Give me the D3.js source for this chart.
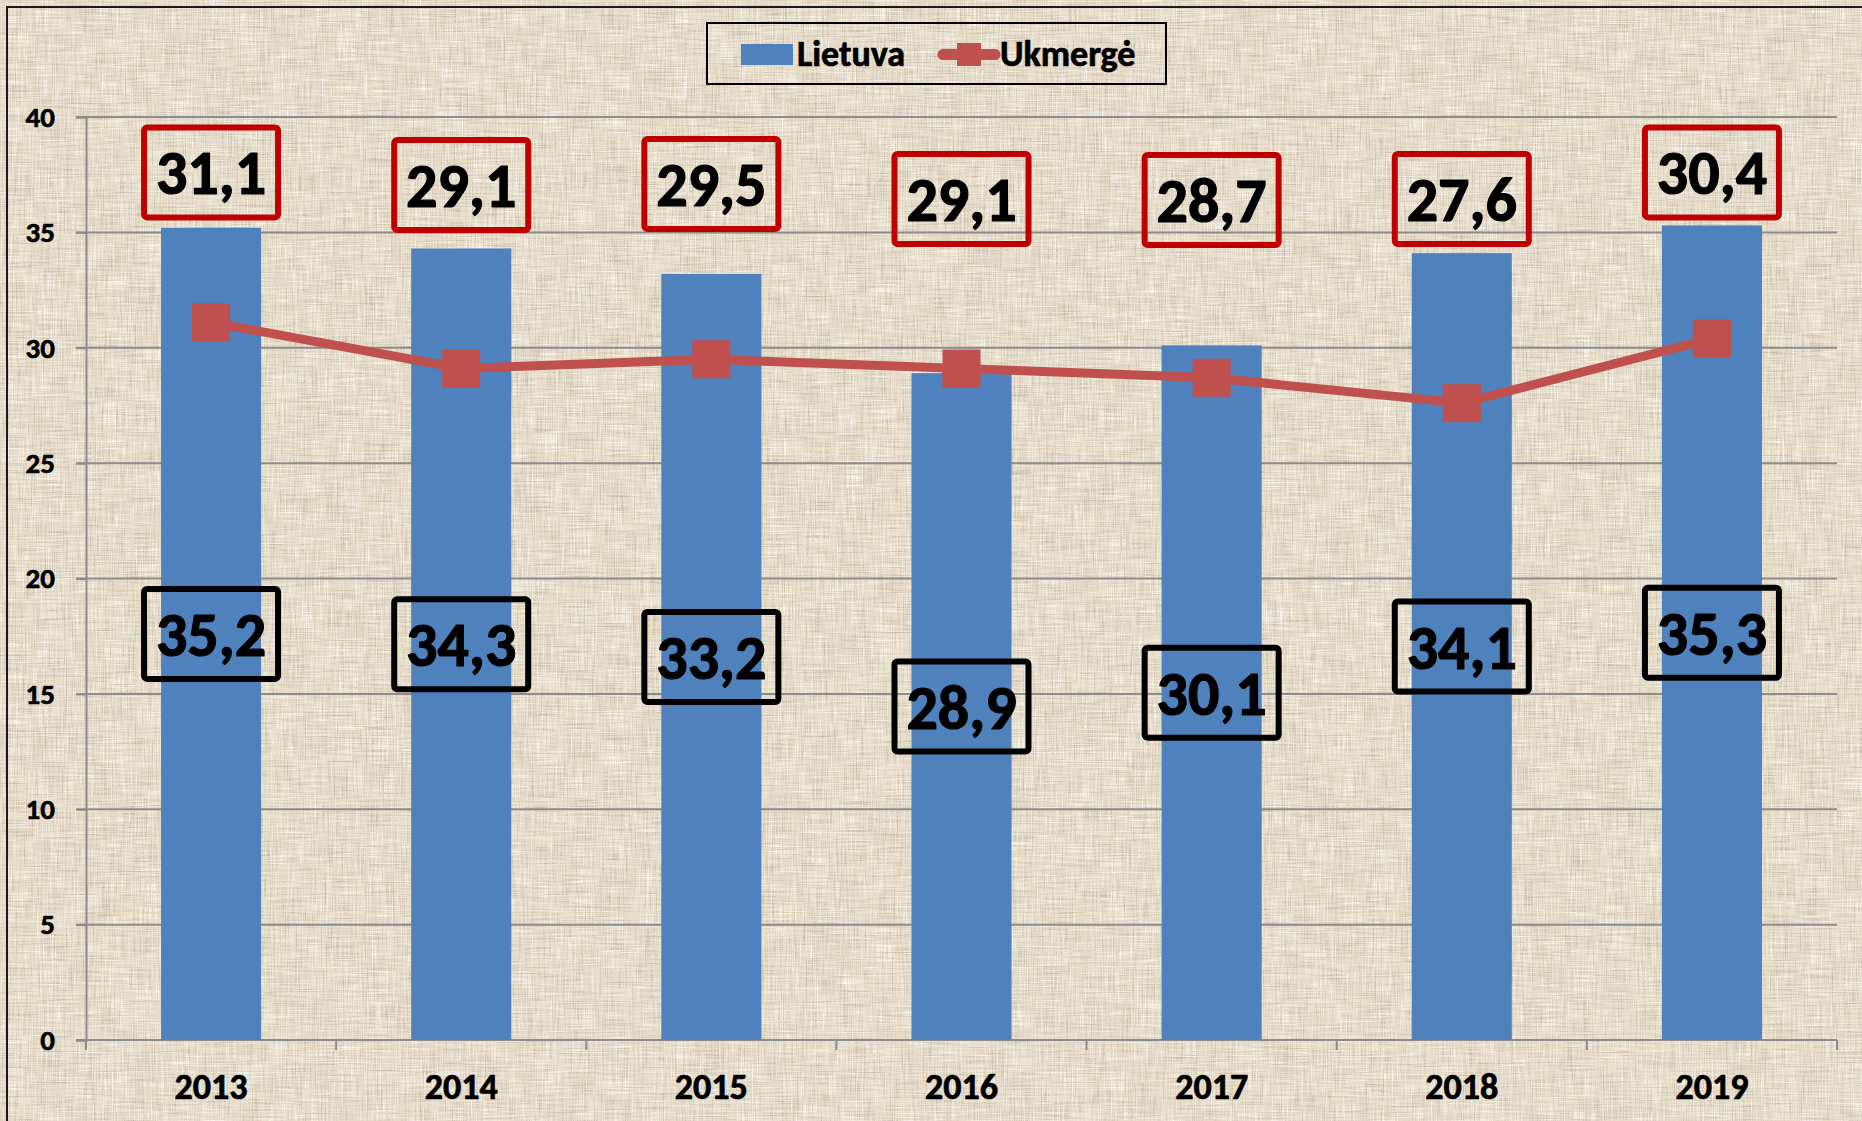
<!DOCTYPE html>
<html>
<head>
<meta charset="utf-8">
<script src="https://cdn.jsdelivr.net/npm/d3@7"></script>
<style>
	html, body { margin: 0; padding: 0; background: #e6dcc8; overflow: hidden; }
	svg { display: block; }
</style>
</head>
<body>
<svg id="chart"></svg>
<script>
// values
var years = ["2013", "2014", "2015", "2016", "2017", "2018", "2019"];
var lietuva = [35.2, 34.3, 33.2, 28.9, 30.1, 34.1, 35.3];
var ukmerge = [31.1, 29.1, 29.5, 29.1, 28.7, 27.6, 30.4];
// where the Ukmergė labels were dragged to (in axis units)
var ukmergeLabelAt = [37.6, 37.05, 37.1, 36.45, 36.4, 36.45, 37.6];
var yTicks = [0, 5, 10, 15, 20, 25, 30, 35, 40];
var seriesNames = ["Lietuva", "Ukmergė"];

var W = 1862, H = 1121;
var margin = {top: 117, right: 25, bottom: 81, left: 86};
var fontFam = "Carlito, Lato, 'Open Sans', sans-serif";
var barColor = "#4f81bd", lineColor = "#c0504d", boxRed = "#c00000";

var svg = d3.select("#chart")
	.attr("width", W)
	.attr("height", H);

// linen background
var defs = svg.append("defs");
var f1 = defs.append("filter").attr("id", "darkStrands")
	.attr("x", 0).attr("y", 0).attr("width", "100%").attr("height", "100%");
f1.append("feTurbulence").attr("type", "fractalNoise")
	.attr("baseFrequency", "0.9 0.025").attr("numOctaves", 2).attr("seed", 4).attr("result", "v");
f1.append("feTurbulence").attr("type", "fractalNoise")
	.attr("baseFrequency", "0.025 0.9").attr("numOctaves", 2).attr("seed", 9).attr("result", "h");
f1.append("feComposite").attr("in", "v").attr("in2", "h")
	.attr("operator", "arithmetic").attr("k2", 0.5).attr("k3", 0.5).attr("result", "n");
f1.append("feColorMatrix").attr("in", "n").attr("type", "matrix")
	.attr("values", "0 0 0 0 0.55  0 0 0 0 0.48  0 0 0 0 0.38  3.4 0 0 0 -1.6");

var f2 = defs.append("filter").attr("id", "lightStrands")
	.attr("x", 0).attr("y", 0).attr("width", "100%").attr("height", "100%");
f2.append("feTurbulence").attr("type", "fractalNoise")
	.attr("baseFrequency", "0.8 0.03").attr("numOctaves", 2).attr("seed", 21).attr("result", "v");
f2.append("feTurbulence").attr("type", "fractalNoise")
	.attr("baseFrequency", "0.03 0.8").attr("numOctaves", 2).attr("seed", 33).attr("result", "h");
f2.append("feComposite").attr("in", "v").attr("in2", "h")
	.attr("operator", "arithmetic").attr("k2", 0.5).attr("k3", 0.5).attr("result", "n");
f2.append("feColorMatrix").attr("in", "n").attr("type", "matrix")
	.attr("values", "0 0 0 0 0.98  0 0 0 0 0.96  0 0 0 0 0.9  3.2 0 0 0 -1.5");

svg.append("rect").attr("width", W).attr("height", H).attr("fill", "#e6dcc8");
svg.append("rect").attr("width", W).attr("height", H).attr("filter", "url(#darkStrands)");
svg.append("rect").attr("width", W).attr("height", H).attr("filter", "url(#lightStrands)");

// chart border (right/bottom fall outside the picture)
svg.append("rect")
	.attr("x", 7).attr("y", 7)
	.attr("width", W + 20).attr("height", H + 20)
	.attr("fill", "none")
	.attr("stroke", "#1a1a1a")
	.attr("stroke-width", 2);

var x = d3.scaleBand()
	.domain(years)
	.range([margin.left, W - margin.right])
	.paddingInner(0.6)
	.paddingOuter(0.3);

var y = d3.scaleLinear()
	.domain([0, 40])
	.range([H - margin.bottom, margin.top]);

var cx = function(d) { return x(d) + x.bandwidth() / 2; };

// heavier bold, closer to the original Calibri
var boldText = function(sel, size, sw) {
	sel.style("font-family", fontFam)
		.style("font-weight", "bold")
		.attr("font-size", size + "px")
		.attr("fill", "#000")
		.attr("stroke", "#000")
		.attr("stroke-width", sw)
		.attr("stroke-linejoin", "round");
};

// gridlines
svg.append("g")
	.selectAll("line")
	.data(yTicks)
	.enter()
	.append("line")
		.attr("x1", margin.left - 10)
		.attr("x2", W - margin.right)
		.attr("y1", d => y(d))
		.attr("y2", d => y(d))
		.attr("stroke", "#8c8c8c")
		.attr("stroke-width", 2);

// y axis
var yAxis = svg.append("g")
	.attr("transform", "translate(" + margin.left + ",0)")
	.call(d3.axisLeft(y).tickValues(yTicks).tickSize(10).tickPadding(21));
yAxis.select(".domain").attr("stroke", "#8c8c8c").attr("stroke-width", 2);
yAxis.selectAll(".tick line").attr("stroke", "#8c8c8c").attr("stroke-width", 2);
yAxis.selectAll("text").call(boldText, 29, 0.6);

// x axis
var step = x.step();
var bounds = years.map(d => cx(d) - step / 2).concat([cx(years[years.length - 1]) + step / 2]);
svg.append("g")
	.selectAll("line")
	.data(bounds)
	.enter()
	.append("line")
		.attr("x1", d => d).attr("x2", d => d)
		.attr("y1", y(0)).attr("y2", y(0) + 10)
		.attr("stroke", "#8c8c8c")
		.attr("stroke-width", 2);

var xAxis = svg.append("g")
	.attr("transform", "translate(0," + y(0) + ")")
	.call(d3.axisBottom(x).tickSize(0));
xAxis.select(".domain")
	.attr("d", "M" + (margin.left - 10) + ",0H" + (W - margin.right))
	.attr("stroke", "#8c8c8c")
	.attr("stroke-width", 2);
xAxis.selectAll("text")
	.attr("y", 59)
	.attr("dy", null)
	.call(boldText, 36, 0.7);

// bars
svg.append("g")
	.selectAll("rect")
	.data(lietuva)
	.enter()
	.append("rect")
		.attr("x", (d, i) => x(years[i]))
		.attr("y", d => y(d))
		.attr("width", x.bandwidth())
		.attr("height", d => y(0) - y(d))
		.attr("fill", barColor);

// line + markers
var line = d3.line()
	.x((d, i) => cx(years[i]))
	.y(d => y(d));

svg.append("path")
	.datum(ukmerge)
	.attr("d", line)
	.attr("fill", "none")
	.attr("stroke", lineColor)
	.attr("stroke-width", 9)
	.attr("stroke-linejoin", "round");

svg.append("g")
	.selectAll("rect")
	.data(ukmerge)
	.enter()
	.append("rect")
		.attr("x", (d, i) => cx(years[i]) - 19)
		.attr("y", d => y(d) - 19)
		.attr("width", 38)
		.attr("height", 38)
		.attr("fill", lineColor);

// boxed data labels
var fmt = function(v) { return d3.format(".1f")(v).replace(".", ","); };
var boxW = 134, boxH = 90;

var drawLabels = function(vals, posVals, stroke) {
	var g = svg.append("g")
		.selectAll("g")
		.data(vals)
		.enter()
		.append("g")
			.attr("transform", (d, i) => "translate(" + cx(years[i]) + "," + y(posVals[i]) + ")");
	g.append("rect")
		.attr("x", -boxW / 2)
		.attr("y", -boxH / 2)
		.attr("width", boxW)
		.attr("height", boxH)
		.attr("rx", 3)
		.attr("fill", "none")
		.attr("stroke", stroke)
		.attr("stroke-width", 6);
	g.append("text")
		.attr("text-anchor", "middle")
		.attr("y", 22)
		.text(d => fmt(d))
		.call(boldText, 62, 1.2);
};

drawLabels(ukmerge, ukmergeLabelAt, boxRed);
drawLabels(lietuva, lietuva.map(d => d / 2), "#000");

// legend
var leg = svg.append("g");
leg.append("rect")
	.attr("x", 707).attr("y", 23)
	.attr("width", 459).attr("height", 61)
	.attr("fill", "none")
	.attr("stroke", "#000")
	.attr("stroke-width", 2);
leg.append("rect")
	.attr("x", 741).attr("y", 44)
	.attr("width", 52).attr("height", 21)
	.attr("fill", barColor);
leg.append("line")
	.attr("x1", 943).attr("x2", 995)
	.attr("y1", 54.5).attr("y2", 54.5)
	.attr("stroke", lineColor)
	.attr("stroke-width", 11)
	.attr("stroke-linecap", "round");
leg.append("rect")
	.attr("x", 957).attr("y", 43)
	.attr("width", 24).attr("height", 23)
	.attr("fill", lineColor);
leg.selectAll("text")
	.data(seriesNames)
	.enter()
	.append("text")
		.attr("x", (d, i) => i == 0 ? 797 : 1000)
		.attr("y", 66)
		.text(d => d)
		.call(boldText, 36, 0.7);
</script>
</body>
</html>
